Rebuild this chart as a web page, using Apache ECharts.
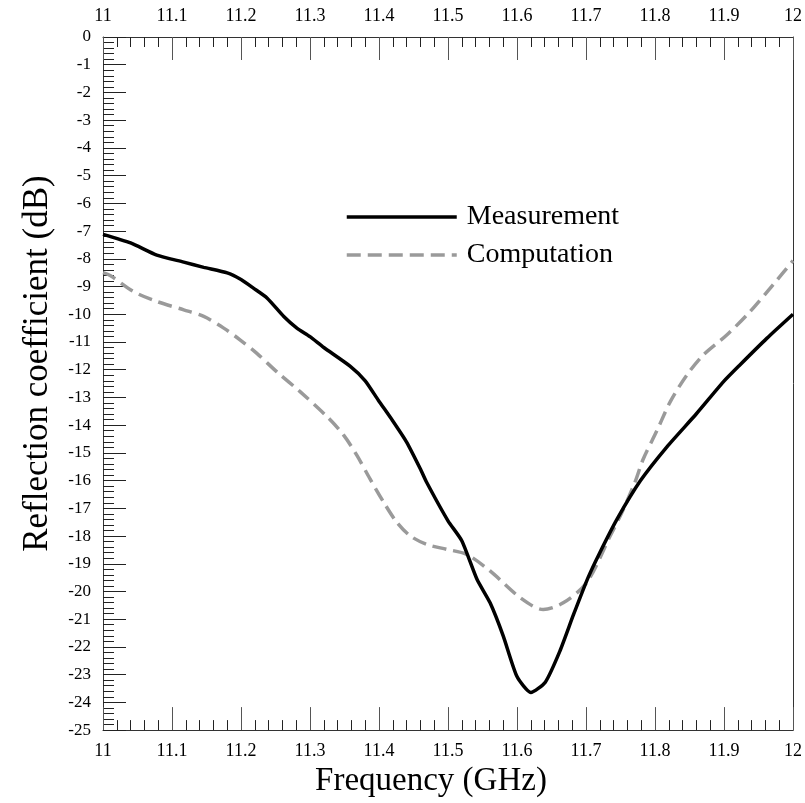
<!DOCTYPE html>
<html>
<head>
<meta charset="utf-8">
<script src="https://cdn.jsdelivr.net/npm/echarts@6/dist/echarts.min.js"></script>
<style>
html,body{margin:0;padding:0;background:#fff;overflow:hidden;}
#chart{width:805px;height:803px;}
</style>
</head>
<body>
<div id="chart"></div>
<script>
// Data
var measFreq = [11.0, 11.04, 11.078, 11.117, 11.146, 11.18, 11.2, 11.218, 11.238, 11.262, 11.281, 11.3, 11.32, 11.358, 11.38, 11.399, 11.42, 11.44, 11.46, 11.469, 11.5, 11.52, 11.542, 11.561, 11.58, 11.6, 11.62, 11.641, 11.662, 11.682, 11.703, 11.72, 11.745, 11.779, 11.817, 11.86, 11.899, 11.923, 11.962, 12.0];
var measDb = [-7.12, -7.43, -7.87, -8.12, -8.31, -8.51, -8.75, -9.06, -9.42, -10.08, -10.5, -10.81, -11.2, -11.87, -12.4, -13.1, -13.85, -14.61, -15.58, -16.06, -17.45, -18.17, -19.56, -20.41, -21.6, -23.07, -23.64, -23.27, -22.16, -20.83, -19.5, -18.6, -17.39, -16.0, -14.79, -13.59, -12.44, -11.83, -10.87, -10.0];

var compFreq = [11.0, 11.011, 11.044, 11.078, 11.117, 11.146, 11.175, 11.199, 11.223, 11.252, 11.286, 11.325, 11.349, 11.368, 11.387, 11.407, 11.426, 11.445, 11.469, 11.498, 11.527, 11.561, 11.605, 11.638, 11.667, 11.701, 11.735, 11.752, 11.771, 11.783, 11.803, 11.822, 11.846, 11.87, 11.904, 11.938, 11.971, 12.0];
var compDb = [-8.5, -8.61, -9.18, -9.54, -9.84, -10.08, -10.5, -10.93, -11.41, -12.08, -12.8, -13.7, -14.37, -15.09, -15.94, -16.79, -17.51, -17.99, -18.3, -18.48, -18.66, -19.26, -20.23, -20.65, -20.41, -19.68, -18.0, -17.15, -16.06, -15.22, -14.19, -13.16, -12.2, -11.47, -10.75, -9.9, -8.94, -8.07];

var seriesNames = ['Measurement', 'Computation'];
var xTitle = 'Frequency (GHz)';
var yTitle = 'Reflection coefficient (dB)';

function pair(xs, ys) { return xs.map(function (x, i) { return [x, ys[i]]; }); }

var FONT = '"Liberation Serif", "Times New Roman", serif';
var AXC = '#333';

function xAxisCfg(pos) {
  return {
    type: 'value', position: pos, min: 11, max: 12, interval: 0.1,
    axisLine: { show: true, onZero: false, lineStyle: { color: AXC, width: 1 } },
    axisTick: { show: true, inside: true, length: 23, lineStyle: { color: '#555', width: 1 } },
    minorTick: { show: true, splitNumber: 5, length: 10, lineStyle: { color: '#222', width: 1 } },
    splitLine: { show: false },
    axisLabel: {
      margin: 12, fontFamily: FONT, fontSize: 18, color: '#000',
      formatter: function (v) { return String(parseFloat(v.toFixed(2))); }
    }
  };
}

var chart = echarts.init(document.getElementById('chart'), null, { renderer: 'canvas' });
chart.setOption({
  animation: false,
  backgroundColor: '#fff',
  grid: { left: 103, right: 12, top: 37, bottom: 70, containLabel: false },
  legend: {
    orient: 'vertical', left: 345, top: 203, padding: 0,
    itemWidth: 110, itemHeight: 14, itemGap: 10,
    itemStyle: { opacity: 0 },
    lineStyle: { width: 3.5 },
    textStyle: { fontFamily: FONT, fontSize: 28, color: '#000', padding: [0, 0, 0, 5] },
    data: seriesNames
  },
  xAxis: [
    Object.assign(xAxisCfg('bottom'), {
      name: xTitle, nameLocation: 'middle', nameGap: 33,
      nameTextStyle: { fontFamily: FONT, fontSize: 33, color: '#000', padding: [0, 34, 0, 0] }
    }),
    xAxisCfg('top')
  ],
  yAxis: [
    {
      type: 'value', position: 'left', min: -25, max: 0, interval: 1,
      name: yTitle, nameLocation: 'middle', nameGap: 48,
      nameTextStyle: { fontFamily: FONT, fontSize: 35, color: '#000', padding: [0, 0, 0, 40] },
      axisLine: { show: true, onZero: false, lineStyle: { color: AXC, width: 1 } },
      axisTick: { show: true, inside: true, length: 23, lineStyle: { color: '#222', width: 1 } },
      minorTick: { show: true, splitNumber: 5, length: 11, lineStyle: { color: '#222', width: 1 } },
      splitLine: { show: false },
      axisLabel: { margin: 12, fontFamily: FONT, fontSize: 17, color: '#000' }
    },
    {
      type: 'value', position: 'right', min: -25, max: 0, interval: 1,
      axisLine: { show: true, onZero: false, lineStyle: { color: AXC, width: 1 } },
      axisTick: { show: false }, axisLabel: { show: false }, splitLine: { show: false }
    }
  ],
  series: [
    {
      name: seriesNames[0], type: 'line', xAxisIndex: 0, yAxisIndex: 0,
      data: pair(measFreq, measDb), showSymbol: false, symbol: 'none', smooth: 0.2,
      lineStyle: { color: '#000', width: 3.5 }, itemStyle: { color: '#000' }, z: 3
    },
    {
      name: seriesNames[1], type: 'line', xAxisIndex: 0, yAxisIndex: 0,
      data: pair(compFreq, compDb), showSymbol: false, symbol: 'none', smooth: 0.3,
      lineStyle: { color: '#9a9a9a', width: 3.5, type: [14, 7] }, itemStyle: { color: '#9a9a9a' }, z: 2
    }
  ]
});
</script>
</body>
</html>
